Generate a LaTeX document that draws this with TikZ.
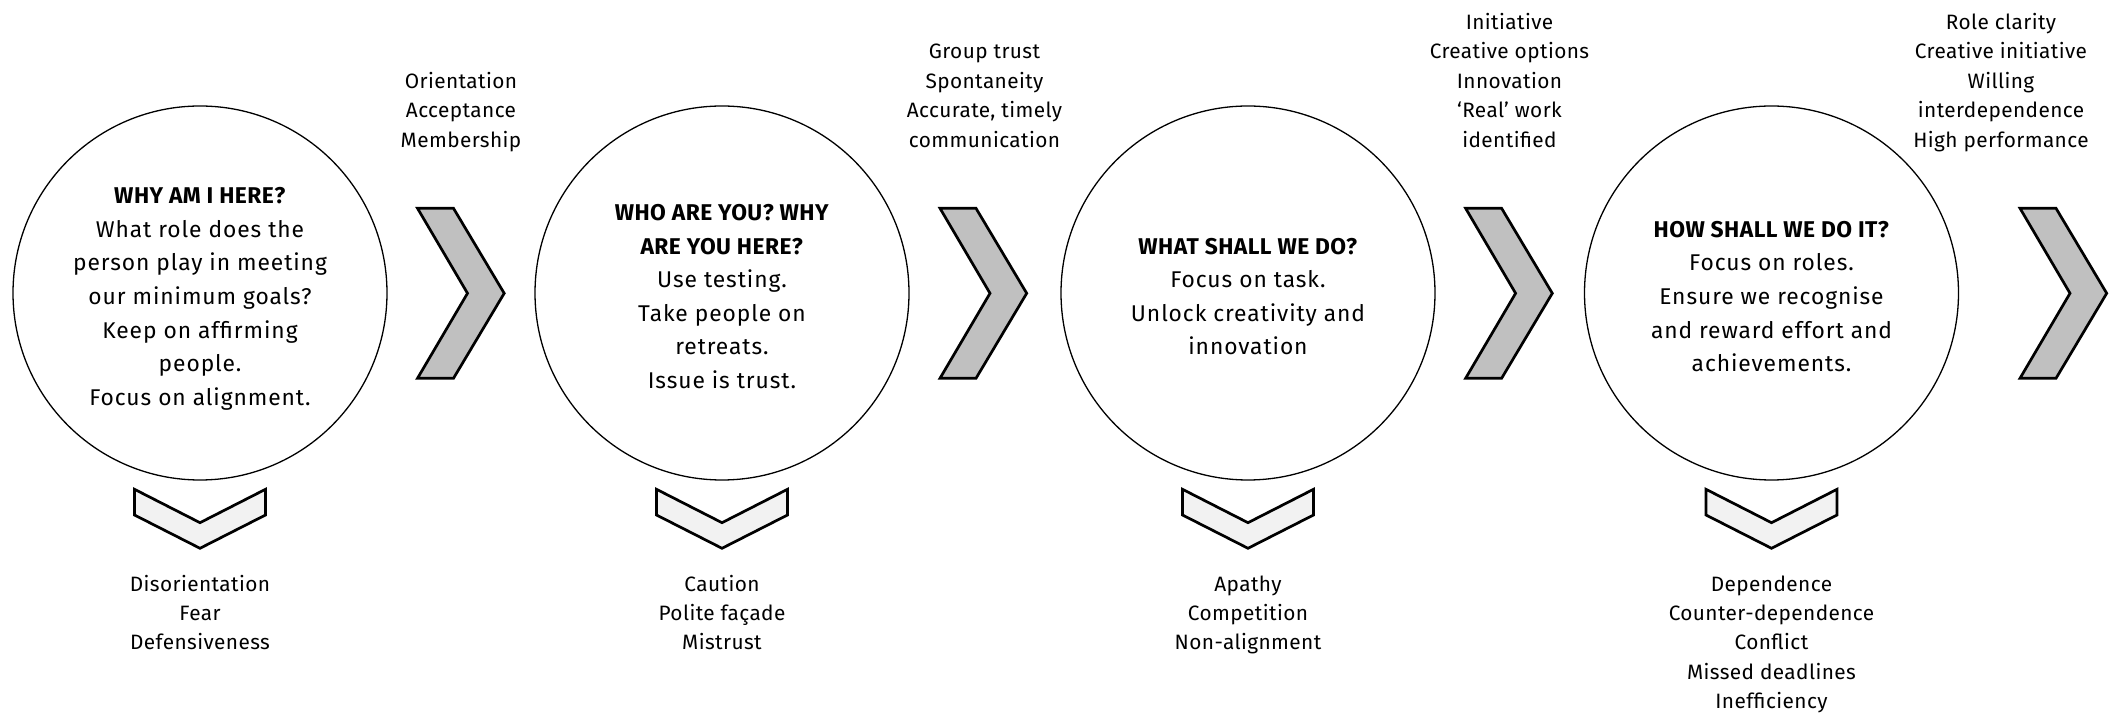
\documentclass[tikz,border=0pt]{standalone}
\usepackage{fontspec}
\setmainfont{Fira Sans}
\newfontfamily\stagefont[LetterSpace=4, BoldFeatures={LetterSpace=2}]{Fira Sans}
\newfontfamily\outcomefont[LetterSpace=2]{Fira Sans}
\definecolor{chevgray}{HTML}{C0C0C0}
\definecolor{chevlight}{HTML}{F2F2F2}
\begin{document}
\begin{tikzpicture}[x=0.5pt,y=-0.5pt,
  stage/.style={circle, draw=black, line width=0.65pt, minimum size=187pt, inner sep=0pt},
  stagetext/.style={align=center, inner sep=0pt, font=\stagefont\fontsize{11.4pt}{16.8pt}\selectfont},
  gain/.style={align=center, inner sep=0pt, anchor=south, font=\outcomefont\fontsize{10.4pt}{14.7pt}\selectfont},
  loss/.style={align=center, inner sep=0pt, anchor=north, font=\outcomefont\fontsize{10.4pt}{14.7pt}\selectfont},
  fwdshape/.style={draw=black, fill=chevgray, line width=1.35pt},
  downshape/.style={draw=black, fill=chevlight, line width=1.35pt},
  fwdchev/.pic={\path[fwdshape] (0,0) -- (36,0) -- (86.7,85) -- (36,170) -- (0,170) -- (50,85) -- cycle;},
  downchev/.pic={\path[downshape] (-65.5,0) -- (0,33.4) -- (65.5,0) -- (65.5,25.7) -- (0,59) -- (-65.5,25.7) -- cycle;}
]
\useasboundingbox (0,0) rectangle (2116,715);

% stages
\node[stage] (c1) at (200,293) {};
\node[stage] (c2) at (722,293) {};
\node[stage] (c3) at (1248,293) {};
\node[stage] (c4) at (1771.5,293) {};

\node[stagetext] (t1) at (200,297.8) {\strut\textbf{WHY AM I HERE?}\\ What role does the\\ person play in meeting\\ our minimum goals?\\ Keep on affirming\\ people.\\ Focus on alignment.\strut};
\node[stagetext] (t2) at (722,297.8) {\strut\textbf{WHO ARE YOU? WHY}\\ \textbf{ARE YOU HERE?}\\ Use testing.\\ Take people on\\ retreats.\\ Issue is trust.\strut};
\node[stagetext] (t3) at (1248,297.8) {\strut\textbf{WHAT SHALL WE DO?}\\ Focus on task.\\ Unlock creativity and\\ innovation\strut};
\node[stagetext] (t4) at (1771.5,297.8) {\strut\textbf{HOW SHALL WE DO IT?}\\ Focus on roles.\\ Ensure we recognise\\ and reward effort and\\ achievements.\strut};

% forward chevrons between stages
\pic at (417.5,208.3) {fwdchev};
\pic at (940,208.3) {fwdchev};
\pic at (1465.6,208.3) {fwdchev};
\pic at (2020,208.3) {fwdchev};

% downward chevrons under stages
\pic at (200,489.3) {downchev};
\pic at (722,489.3) {downchev};
\pic at (1248,489.3) {downchev};
\pic at (1771.5,489.3) {downchev};

% outcomes when a stage is resolved
\node[gain] (g1) at (461,156.3) {Orientation\\ Acceptance\\ Membership\strut};
\node[gain] (g2) at (984.5,156.3) {Group trust\\ Spontaneity\\ Accurate, timely\\ communication\strut};
\node[gain] (g3) at (1509.5,156.3) {Initiative\\ Creative options\\ Innovation\\ ‘Real’ work\\ identified\strut};
\node[gain] (g4) at (2001,156.3) {Role clarity\\ Creative initiative\\ Willing\\ interdependence\\ High performance\strut};

% outcomes when a stage is unresolved
\node[loss] (l1) at (200,570.1) {\strut Disorientation\\ Fear\\ Defensiveness};
\node[loss] (l2) at (722,570.1) {\strut Caution\\ Polite façade\\ Mistrust};
\node[loss] (l3) at (1248,570.1) {\strut Apathy\\ Competition\\ Non-alignment};
\node[loss] (l4) at (1771.5,570.1) {\strut Dependence\\ Counter-dependence\\ Conflict\\ Missed deadlines\\ Inefficiency};
\end{tikzpicture}
\end{document}
